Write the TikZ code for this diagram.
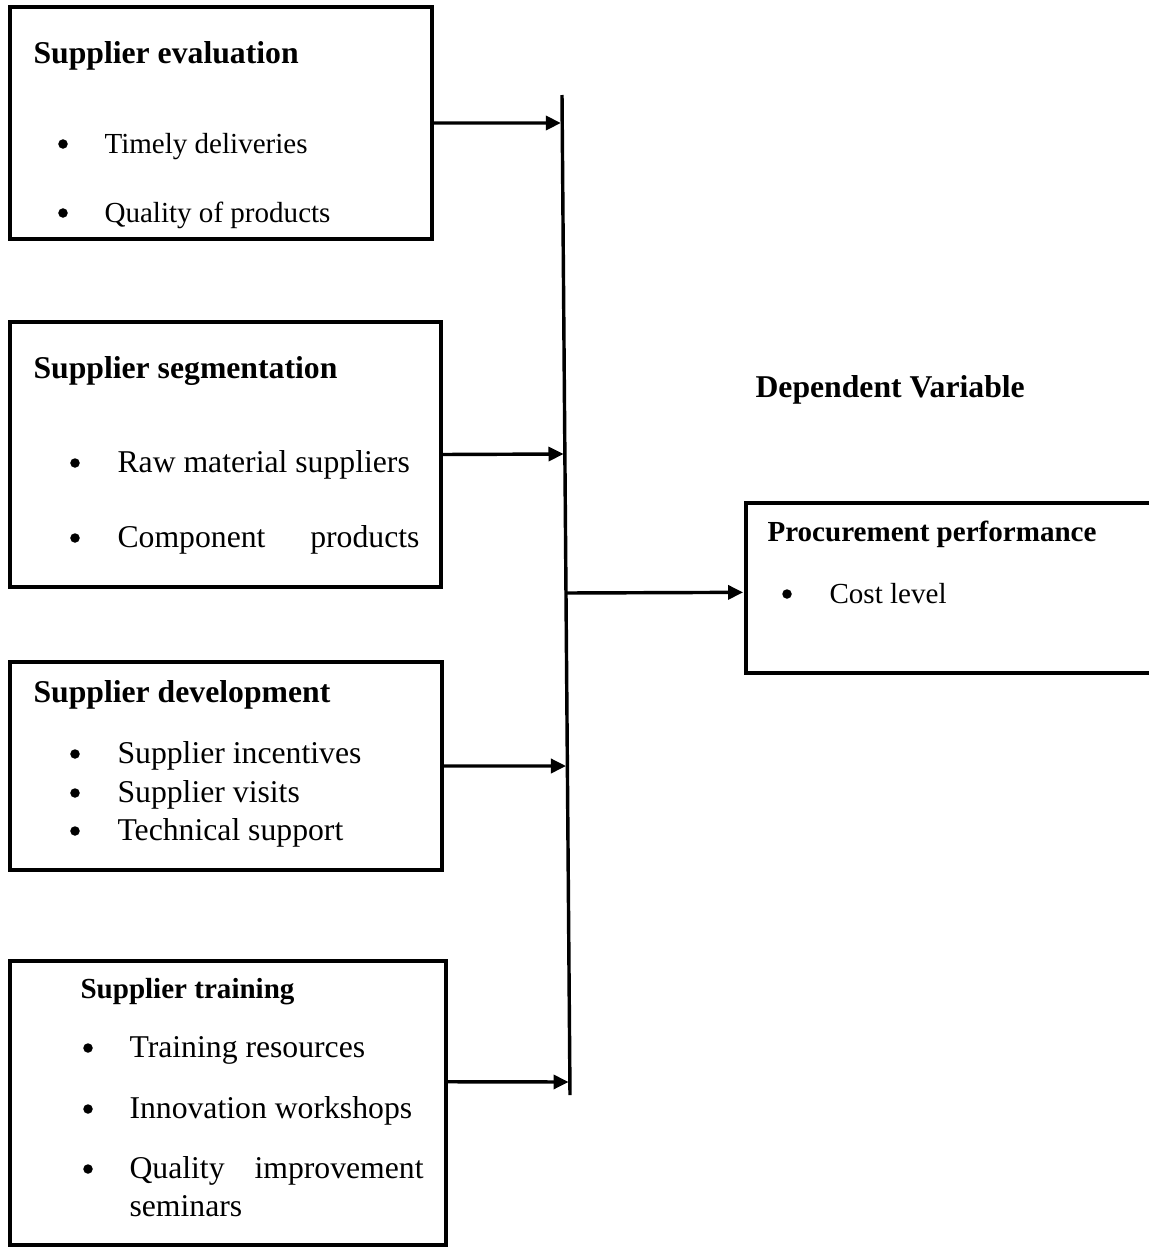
\documentclass[tikz,border=0pt]{standalone}
\usepackage{fontspec}
\setmainfont{Liberation Serif}
\usetikzlibrary{arrows.meta,fit,calc}
\begin{document}
\begin{tikzpicture}[x=0.3785pt,y=-0.3785pt,
  box/.style={draw,line width=1.2pt,inner sep=0pt},
  lbl/.style={anchor=base west,inner sep=0pt},
  bul/.style={circle,fill,inner sep=0pt,minimum size=3.6pt},
  big/.style={font=\fontsize{12}{14}\selectfont},
  small/.style={font=\fontsize{11}{13}\selectfont},
  bigb/.style={font=\fontsize{12}{14}\selectfont\bfseries},
  smallb/.style={font=\fontsize{11}{13}\selectfont\bfseries},
  conn/.style={line width=1.3pt,-{Triangle[length=5.7pt,width=5.3pt]},shorten >=0.5pt},
  vbar/.style={line width=1.3pt}]
\useasboundingbox (0,0) rectangle (1148,1247);

% boxes
\node[box,fit={(10,7) (432,239)}] (b1) {};
\node[box,fit={(10,322) (441,587)}] (b2) {};
\node[box,fit={(10,662) (442,870)}] (b3) {};
\node[box,fit={(10,961) (446,1245)}] (b4) {};
\node[box,fit={(746,503) (1165,673)}] (p) {};

% box 1
\node[lbl,bigb] (t1) at (33,63) {Supplier evaluation};
\node[bul] (b1d1) at (63,144) {};
\node[lbl,small] (b1i1) at (104,153) {Timely deliveries};
\node[bul] (b1d2) at (63,213) {};
\node[lbl,small] (b1i2) at (104,222) {Quality of products};

% box 2
\node[lbl,bigb] (t2) at (33,378) {Supplier segmentation};
\node[bul] (b2d1) at (75,463) {};
\node[lbl,big] (b2i1) at (117,472) {Raw material suppliers};
\node[bul] (b2d2) at (75,538) {};
\node[lbl,big] (b2i2) at (117,547) {\makebox[114.3pt][s]{Component\hfill products}};

% box 3
\node[lbl,bigb] (t3) at (33,702) {Supplier development};
\node[bul] (b3d1) at (75,754) {};
\node[lbl,big] (b3i1) at (117,763) {Supplier incentives};
\node[bul] (b3d2) at (75,793) {};
\node[lbl,big] (b3i2) at (117,802) {Supplier visits};
\node[bul] (b3d3) at (75,831) {};
\node[lbl,big] (b3i3) at (117,840) {Technical support};

% box 4
\node[lbl,smallb] (t4) at (80,998) {Supplier training};
\node[bul] (b4d1) at (88,1048) {};
\node[lbl,big] (b4i1) at (129,1057) {Training resources};
\node[bul] (b4d2) at (88,1109) {};
\node[lbl,big] (b4i2) at (129,1118) {Innovation workshops};
\node[bul] (b4d3) at (88,1169) {};
\node[lbl,big] (b4i3) at (129,1178) {\makebox[111.3pt][s]{Quality\hfill improvement}};
\node[lbl,big] (b4i4) at (129,1216) {seminars};

% dependent variable
\node[lbl,bigb] (dv) at (755,397) {Dependent Variable};
\node[lbl,smallb] (tp) at (767,541) {Procurement performance};
\node[bul] (pd1) at (787,594) {};
\node[lbl,small] (pi1) at (829,603) {Cost level};

% vertical bar
\coordinate (vt) at (562,95);
\coordinate (vb) at (570,1095);
\draw[vbar] (vt) -- (vb);
\coordinate (v1) at ($(vt)!0.028!(vb)$);
\coordinate (v2) at ($(vt)!0.359!(vb)$);
\coordinate (v5) at ($(vt)!0.498!(vb)$);
\coordinate (v3) at ($(vt)!0.671!(vb)$);
\coordinate (v4) at ($(vt)!0.987!(vb)$);
\coordinate (e4) at ($(b4.north east)!0.426!(b4.south east)$);
\coordinate (pw) at ($(p.north west)!0.525!(p.south west)$);

% connectors
\draw[conn] (b1.east) -- (v1);
\draw[conn] (b2.east) -- (v2);
\draw[conn] (b3.east) -- (v3);
\draw[conn] (e4) -- (v4);
\draw[conn] (v5) -- (pw);
\end{tikzpicture}
\end{document}
